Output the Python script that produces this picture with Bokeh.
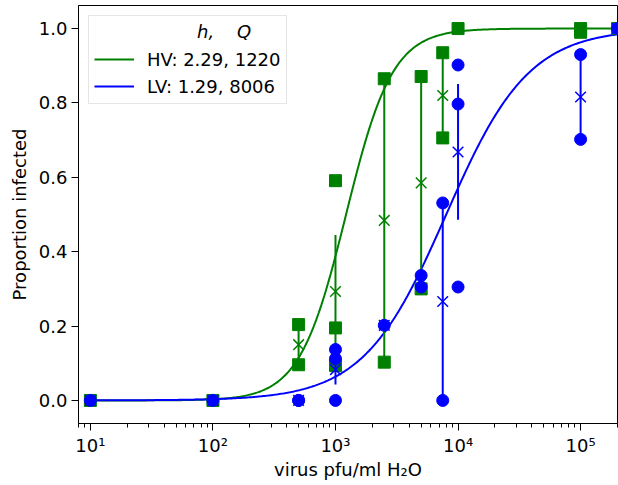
import numpy as np
from bokeh.plotting import figure
from bokeh.models import (Range1d, FixedTicker, CustomJSTickFormatter, PrintfTickFormatter,
                          Legend, LegendItem)
from bokeh.embed import file_html
from bokeh.resources import INLINE

GREEN = "#008000"
BLUE = "#0000ff"

# fitted Hill parameters (from the legend)
hv_h, hv_Q = 2.29, 1220
lv_h, lv_Q = 1.29, 8006

# HV individual observations
hv_x = [10, 100, 500, 500, 1000, 1000, 1000, 2500, 2500, 5000, 5000, 7500, 7500, 10000, 1e5, 1e5, 2e5]
hv_y = [0.0, 0.0, 0.204, 0.096, 0.591, 0.195, 0.094, 0.865, 0.103, 0.871, 0.300, 0.935, 0.706, 1.0, 1.0, 0.99, 1.0]

# HV means and error bars
hv_mx = [10, 100, 500, 1000, 2500, 5000, 7500, 10000, 1e5, 2e5]
hv_mean = [0.0, 0.0, 0.150, 0.293, 0.484, 0.585, 0.820, 1.0, 0.995, 1.0]
hv_lo = [0.0, 0.0, 0.096, 0.141, 0.103, 0.300, 0.706, 1.0, 0.99, 1.0]
hv_hi = [0.0, 0.0, 0.204, 0.445, 0.865, 0.871, 0.935, 1.0, 1.0, 1.0]

# LV individual observations
lv_x = [10, 100, 500, 500, 1000, 1000, 1000, 2500, 5000, 5000, 7500, 7500, 10000, 10000, 10000, 1e5, 1e5, 2e5]
lv_y = [0.0, 0.0, 0.0, 0.0, 0.137, 0.112, 0.0, 0.202, 0.336, 0.305, 0.531, 0.0, 0.902, 0.797, 0.305, 0.930, 0.702, 1.0]

# LV means and error bars
lv_mx = [10, 100, 500, 1000, 2500, 5000, 7500, 10000, 1e5, 2e5]
lv_mean = [0.0, 0.0, 0.0, 0.083, 0.202, 0.320, 0.266, 0.668, 0.816, 1.0]
lv_lo = [0.0, 0.0, 0.0, 0.043, 0.202, 0.305, 0.0, 0.486, 0.702, 1.0]
lv_hi = [0.0, 0.0, 0.0, 0.117, 0.202, 0.336, 0.531, 0.851, 0.930, 1.0]

# fitted curves
xc = np.logspace(1, np.log10(2e5), 400)
hv_curve_y = xc**hv_h / (hv_Q**hv_h + xc**hv_h)
lv_curve_y = xc**lv_h / (lv_Q**lv_h + xc**lv_h)

FONT = "DejaVu Sans"
FS = "18px"

p = figure(width=618, height=485, x_axis_type="log",
           x_range=Range1d(8, 2e5), y_range=Range1d(-0.062, 1.062),
           output_backend="svg", toolbar_location=None,
           min_border_left=78, min_border_right=1, min_border_top=5, min_border_bottom=62)
p.grid.visible = False
p.outline_line_color = "black"
p.outline_line_alpha = 1.0
p.outline_line_width = 1
p.background_fill_color = "white"
p.border_fill_color = "white"

# curves
r_hv = p.line(xc, hv_curve_y, line_color=GREEN, line_width=2)
r_lv = p.line(xc, lv_curve_y, line_color=BLUE, line_width=2)

# HV data
p.segment(x0=hv_mx, y0=hv_lo, x1=hv_mx, y1=hv_hi, line_color=GREEN, line_width=2)
p.scatter(hv_x, hv_y, marker="square", size=12, fill_color=GREEN, line_color=GREEN)
p.scatter(hv_mx, hv_mean, marker="x", size=15, line_color=GREEN, line_width=1.5)

# LV data
p.segment(x0=lv_mx, y0=lv_lo, x1=lv_mx, y1=lv_hi, line_color=BLUE, line_width=2)
p.scatter(lv_x, lv_y, marker="circle", size=12, fill_color=BLUE, line_color=BLUE)
p.scatter(lv_mx, lv_mean, marker="x", size=15, line_color=BLUE, line_width=1.5)

# axes
major = [10, 100, 1000, 10000, 100000]
minor = [m * 10**e for e in range(0, 6) for m in range(2, 10)]
p.xaxis.ticker = FixedTicker(ticks=major, minor_ticks=minor)
p.xaxis.formatter = CustomJSTickFormatter(code="""
const e = Math.round(Math.log10(tick));
const sup = {'0':'\u2070','1':'\u00b9','2':'\u00b2','3':'\u00b3','4':'\u2074','5':'\u2075','6':'\u2076','7':'\u2077','8':'\u2078','9':'\u2079','-':'\u207b'};
return '10' + String(e).split('').map(c => sup[c]).join('');
""")
p.yaxis.ticker = FixedTicker(ticks=[0.0, 0.2, 0.4, 0.6, 0.8, 1.0])
p.yaxis.formatter = PrintfTickFormatter(format="%.1f")

p.xaxis.axis_label = "virus pfu/ml H\u2082O"
p.yaxis.axis_label = "Proportion infected"
for ax in (p.xaxis, p.yaxis):
    ax.axis_label_text_font = FONT
    ax.axis_label_text_font_size = FS
    ax.axis_label_text_font_style = "normal"
    ax.axis_label_text_color = "black"
    ax.major_label_text_font = FONT
    ax.major_label_text_font_size = FS
    ax.major_label_text_color = "black"
    ax.axis_line_color = "black"
    ax.major_tick_line_color = "black"
    ax.minor_tick_line_color = "black"
    ax.major_tick_in = 0
    ax.major_tick_out = 7
    ax.minor_tick_in = 0
    ax.minor_tick_out = 4
    ax.major_label_standoff = 4
p.xaxis.axis_label_standoff = 0
p.yaxis.axis_label_standoff = 6

legend = Legend(items=[
    LegendItem(label=f"HV: {hv_h}, {hv_Q}", renderers=[r_hv]),
    LegendItem(label=f"LV: {lv_h}, {lv_Q}", renderers=[r_lv]),
], location="top_left")
legend.title = "\u00a0" * 18 + "h,\u00a0\u00a0\u00a0\u00a0Q"
legend.title_text_font = FONT
legend.title_text_font_size = FS
legend.title_text_font_style = "italic"
legend.title_text_color = "black"
legend.title_standoff = 5
legend.label_text_font = FONT
legend.label_text_font_size = FS
legend.label_text_color = "black"
legend.label_height = 24
legend.glyph_height = 24
legend.glyph_width = 40
legend.label_standoff = 13
legend.spacing = 3
legend.padding = 5
legend.margin = 10
legend.border_line_color = "#cccccc"
legend.border_line_width = 1
legend.background_fill_alpha = 0.8
p.add_layout(legend)

open("out.html", "w").write(file_html(p, INLINE))
